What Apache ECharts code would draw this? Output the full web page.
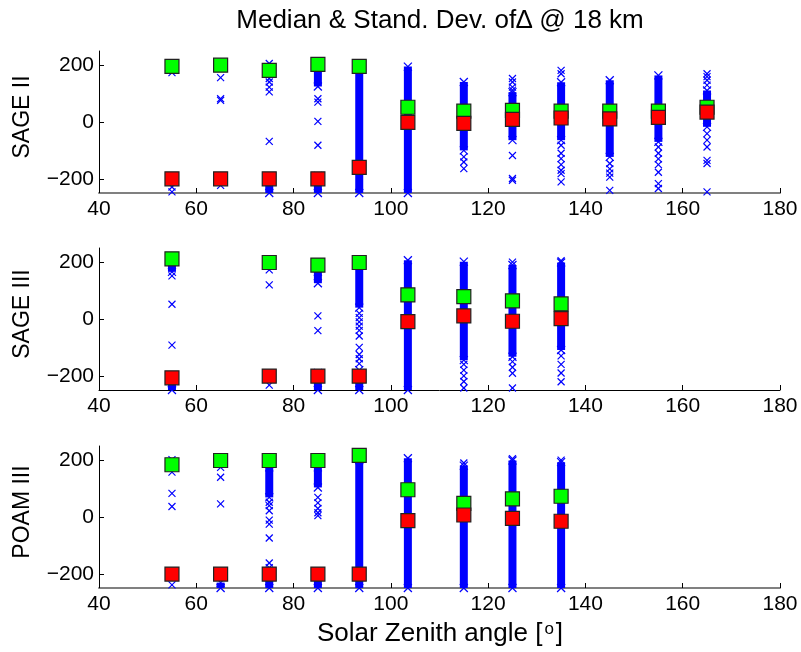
<!DOCTYPE html>
<html><head><meta charset="utf-8">
<script src="https://cdn.jsdelivr.net/npm/echarts@6/dist/echarts.min.js"></script>
<style>html,body{margin:0;padding:0;background:#fff}#c{width:801px;height:652px}</style>
</head><body><div id="c"></div>
<script>
// ---- axis ticks ----
const xTicks = [40, 60, 80, 100, 120, 140, 160, 180];
const yTicks = [-200, 0, 200];
const panelNames = ['SAGE II', 'SAGE III', 'POAM III'];

// ---- SAGE II ----
const sage2X      = [55, 65, 75, 85, 93.5, 103.5, 115, 125, 135, 145, 155, 165];
const sage2Std    = [196, 200, 182, 203, 196, 52, 38, 41, 38, 38, 38, 52];
const sage2Median = [-200, -200, -200, -200, -160, -1, -5, 9, 14, 11, 16, 35];
const sage2Bands = [ // [x, low, high] of the dense clouds of differences
  [75, -250, -205], [85, 125, 200], [85, -250, -190], [93.5, -250, 200], [103.5, -250, 195],
  [115, -100, 141], [125, -64, 105], [135, -64, 140], [145, -123, 147], [155, -70, 164], [165, -17, 111]
];
const sage2Pts = [ // individual differences
  [55, 174], [55, -229], [55, -246],
  [65, 156], [65, 82], [65, 76], [65, -223],
  [75, 206], [75, 153], [75, 141], [75, 123], [75, 106], [75, -68],
  [85, 82], [85, 70], [85, 2], [85, -82],
  [115, -123], [115, -141], [115, -164],
  [125, 153], [125, 141], [125, 123], [125, 112], [125, -118], [125, -199], [125, -205],
  [135, 182], [135, 170], [135, -82], [135, -110], [135, -129], [135, -150], [135, -170], [135, -182], [135, -211],
  [145, -146], [145, -165], [145, -180], [145, -194], [145, -241],
  [155, -88], [155, -110], [155, -130], [155, -150], [155, -177], [155, -217], [155, -234],
  [165, 170], [165, 160], [165, 147], [165, 130], [165, -41], [165, -64], [165, -88], [165, -135], [165, -146], [165, -246]
];

// ---- SAGE III ----
const sage3X      = [55, 75, 85, 93.5, 103.5, 115, 125, 135];
const sage3Std    = [212, 199, 190, 199, 85, 79, 64, 53];
const sage3Median = [-207, -201, -201, -201, -9, 11, -8, 1];
const sage3Bands = [
  [55, 166, 207], [55, -250, -227], [85, 126, 167], [85, -250, -190],
  [93.5, 40, 208], [93.5, -250, -180], [103.5, -250, 207],
  [115, -145, 202], [125, -133, 190], [135, -109, 199]
];
const sage3Pts = [
  [55, 152], [55, 52], [55, -92],
  [75, 173], [75, 120], [75, -233],
  [85, 11], [85, -41],
  [93.5, 20], [93.5, 5], [93.5, -10], [93.5, -25], [93.5, -40], [93.5, -60], [93.5, -100], [93.5, -125], [93.5, -140], [93.5, -157],
  [115, -160], [115, -180], [115, -200], [115, -220], [115, -243],
  [125, 200], [125, -150], [125, -170], [125, -191], [125, -243],
  [135, 205], [135, -130], [135, -160], [135, -190], [135, -221]
];

// ---- POAM III ----
const poamX      = [55, 65, 75, 85, 93.5, 103.5, 115, 125, 135];
const poamStd    = [184, 199, 199, 199, 217, 96, 48, 64, 73];
const poamMedian = [-201, -201, -201, -201, -201, -13, 7, -5, -15];
const poamBands = [
  [65, -250, -231], [75, 69, 175], [75, -250, -210], [85, 104, 175], [85, -250, -200],
  [93.5, -250, 200], [103.5, -250, 207], [115, -250, 181], [125, -250, 199], [135, -250, 193]
];
const poamPts = [
  [55, 202], [55, 158], [55, 83], [55, 37], [55, -239],
  [65, 175], [65, 140], [65, 46],
  [75, 52], [75, 40], [75, 22], [75, -11], [75, -25], [75, -74], [75, -162], [75, -178],
  [85, 69], [85, 50], [85, 30], [85, 15], [85, 5],
  [115, 190], [125, 205], [135, 200]
];

const panels = [
  {x: sage2X, std: sage2Std, med: sage2Median, bands: sage2Bands, pts: sage2Pts},
  {x: sage3X, std: sage3Std, med: sage3Median, bands: sage3Bands, pts: sage3Pts},
  {x: poamX,  std: poamStd,  med: poamMedian,  bands: poamBands,  pts: poamPts}
];

const FONT = 'Liberation Sans, Arial, Helvetica, sans-serif';
const BLUE = '#0000ff';
const tops = [51, 248, 446];
const H = 142;
const xLineColor = ['#808080', '#000', '#808080'];
const xLineWidth = [2, 1, 2];

function xShape(cx, cy, s) {
  return [
    {type: 'line', shape: {x1: cx - s, y1: cy - s, x2: cx + s, y2: cy + s}, style: {stroke: BLUE, lineWidth: 1.2}},
    {type: 'line', shape: {x1: cx - s, y1: cy + s, x2: cx + s, y2: cy - s}, style: {stroke: BLUE, lineWidth: 1.2}}
  ];
}
function renderBand(params, api) {
  const x = api.value(0), lo = api.value(1), hi = api.value(2);
  const p1 = api.coord([x, hi]), p2 = api.coord([x, lo]);
  const w = 8;
  const children = [{type: 'rect', shape: {x: p1[0] - w / 2, y: p1[1], width: w, height: p2[1] - p1[1]},
                     style: {fill: BLUE}}];
  return {type: 'group', children: children.concat(xShape(p1[0], p1[1], 4), xShape(p2[0], p2[1], 4))};
}
function renderX(params, api) {
  const c = api.coord([api.value(0), api.value(1)]);
  return {type: 'group', children: xShape(c[0], c[1], 3.5)};
}

const grid = [], xAxis = [], yAxis = [], series = [];
panels.forEach((p, i) => {
  grid.push({left: 99, right: 21, top: tops[i], height: H});
  xAxis.push({
    gridIndex: i, type: 'value', min: xTicks[0], max: xTicks[xTicks.length - 1], interval: 20,
    axisLine: {show: true, onZero: false, lineStyle: {color: xLineColor[i], width: xLineWidth[i]}},
    axisTick: {show: true, inside: true, length: 5, lineStyle: {color: '#000'}},
    axisLabel: {show: true, color: '#000', fontSize: 21, fontFamily: FONT, margin: 6},
    splitLine: {show: false}
  });
  yAxis.push({
    gridIndex: i, type: 'value', min: -250, max: 250,
    axisLine: {show: true, onZero: false, lineStyle: {color: '#000', width: 1}},
    axisTick: {show: true, inside: true, length: 5, customValues: yTicks, lineStyle: {color: '#000'}},
    axisLabel: {show: true, color: '#000', fontSize: 21, fontFamily: FONT, margin: 5, customValues: yTicks,
                formatter: v => (v < 0 ? '\u2212' + Math.abs(v) : String(v))},
    splitLine: {show: false}
  });
  series.push({type: 'custom', xAxisIndex: i, yAxisIndex: i, renderItem: renderBand, data: p.bands, z: 2, silent: true});
  series.push({type: 'custom', xAxisIndex: i, yAxisIndex: i, renderItem: renderX, data: p.pts, z: 2, silent: true});
  series.push({type: 'scatter', xAxisIndex: i, yAxisIndex: i, symbol: 'rect', symbolSize: 14,
               itemStyle: {color: '#00ff00', borderColor: '#222', borderWidth: 1.2, opacity: 1},
               data: p.x.map((x, k) => [x, p.std[k]]), z: 3});
  series.push({type: 'scatter', xAxisIndex: i, yAxisIndex: i, symbol: 'rect', symbolSize: 14,
               itemStyle: {color: '#ff0000', borderColor: '#222', borderWidth: 1.2, opacity: 1},
               data: p.x.map((x, k) => [x, p.med[k]]), z: 4});
});

const graphic = [
  {type: 'text', x: 440, y: 21, style: {text: 'Median & Stand. Dev. of\u2206 @ 18 km', font: '26px ' + FONT, fill: '#000', align: 'center', verticalAlign: 'middle'}},
  {type: 'text', x: 440, y: 634, style: {text: 'Solar Zenith angle [{sup|o}]', font: '26px ' + FONT, fill: '#000', align: 'center', verticalAlign: 'middle',
    rich: {sup: {fontSize: 17, fontFamily: FONT, verticalAlign: 'top', fill: '#000', padding: [0, 2, 0, 2]}}}}
];
panelNames.forEach((n, i) => {
  graphic.push({type: 'text', x: 23, y: tops[i] + H / 2 - 5, rotation: Math.PI / 2,
    style: {text: n, font: '23px ' + FONT, fill: '#000', align: 'center', verticalAlign: 'middle'}});
});

const chart = echarts.init(document.getElementById('c'), null, {renderer: 'canvas'});
chart.setOption({
  animation: false,
  backgroundColor: '#fff',
  grid, xAxis, yAxis, series,
  graphic: graphic
});
</script>
</body></html>
